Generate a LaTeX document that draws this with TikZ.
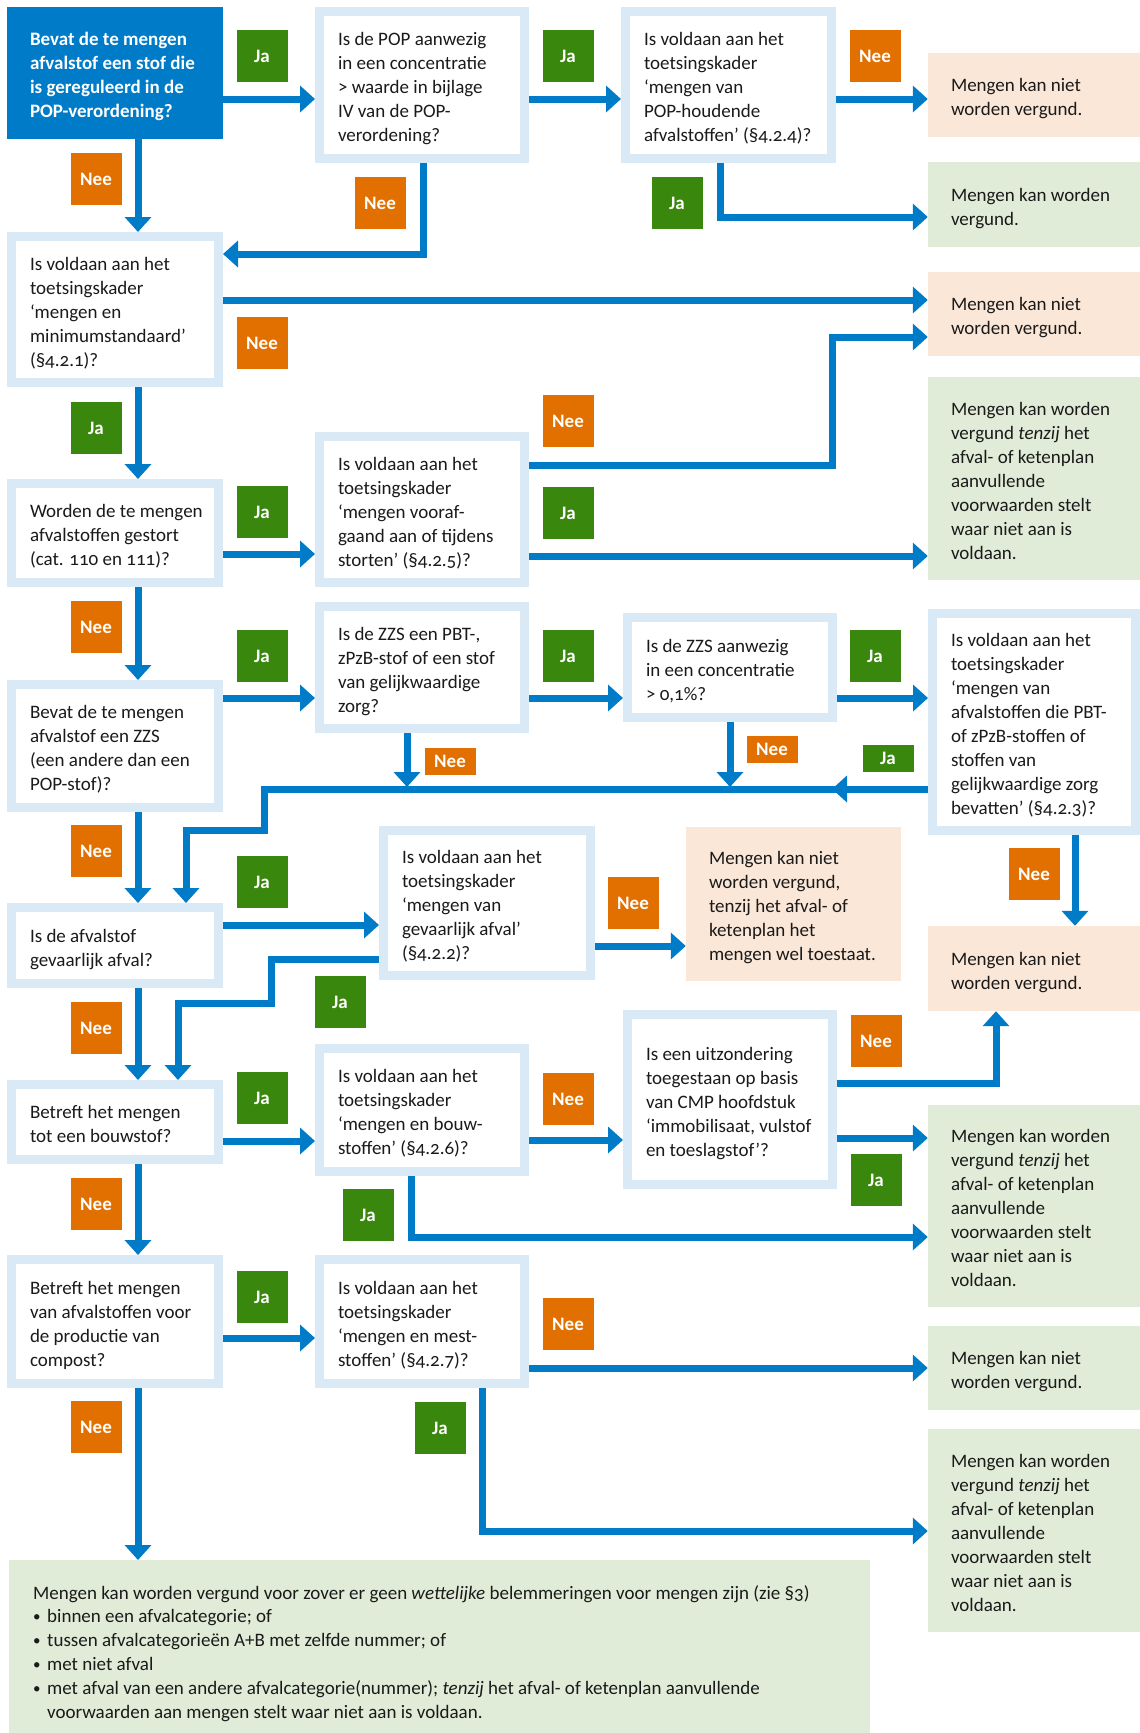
\documentclass[tikz,border=0pt]{standalone}
\usepackage{fontspec}
\setmainfont{Carlito}[Numbers=OldStyle]
\usetikzlibrary{arrows.meta}
\definecolor{dblue}{HTML}{007BC7}
\definecolor{lblue}{HTML}{D9EAF6}
\definecolor{jagreen}{HTML}{39870C}
\definecolor{neeorange}{HTML}{E17000}
\definecolor{peach}{HTML}{FBE7D7}
\definecolor{lgreen}{HTML}{E0ECD8}
\definecolor{txt}{HTML}{1A1A1A}
\newcommand\boxfont{\fontsize{19}{24}\selectfont}
\newcommand\tb[1]{\begin{tabular}{@{}l@{}}#1\end{tabular}}
\newcommand\bul{\makebox[14pt][l]{\raisebox{1pt}{\fontsize{15}{15}\selectfont\textbullet}}}
\newcommand\tenzijtxt{Mengen kan worden\\vergund \textit{tenzij} het\\afval- of ketenplan\\aanvullende\\voorwaarden stelt\\waar niet aan is\\voldaan.}
\newcommand\qnode[7]{%
  \pgfmathsetmacro\bcx{(#3+#5)/2}%
  \pgfmathsetmacro\bcy{(#4+#6)/2}%
  \pgfmathsetmacro\bw{#5-#3}%
  \pgfmathsetmacro\bh{#6-#4}%
  \pgfmathsetmacro\btw{#5-#3-46}%
  \node[#1] (#2) at (\bcx,\bcy) {\makebox[\btw pt][l]{\raisebox{-4pt}[\height][\depth]{\tb{#7}}}};%
}
\begin{document}
\begin{tikzpicture}[x=1pt,y=-1pt,
  qbox/.style={draw=lblue, line width=9pt, fill=white, text=txt, font=\boxfont,
    inner xsep=18.5pt, inner ysep=0pt, minimum width=\bw pt-9pt, minimum height=\bh pt-9pt},
  sbox/.style={fill=dblue, text=white, font=\boxfont\bfseries, inner xsep=23pt, inner ysep=0pt,
    minimum width=\bw pt, minimum height=\bh pt},
  pbox/.style={sbox, fill=peach, text=txt, font=\boxfont},
  gbox/.style={pbox, fill=lgreen},
  lab/.style={text=white, font=\boxfont\bfseries, inner sep=0pt, minimum width=51pt, minimum height=52pt},
  ja/.style={lab, fill=jagreen},
  nee/.style={lab, fill=neeorange},
  small/.style={minimum height=27pt},
  arr/.style={draw=dblue, line width=7pt, -{Triangle[length=15pt, width=26pt]}}
]
\useasboundingbox (0,0) rectangle (1140,1733);
\fill[white] (0,0) rectangle (1140,1733);

% boxes
\qnode{sbox}{S}{7}{7}{223}{139}{Bevat de te mengen\\afvalstof een stof die\\is gereguleerd in de\\POP-verordening?}
\qnode{qbox}{B2}{315}{7}{529}{163}{Is de POP aanwezig\\in een concentratie\\> waarde in bijlage\\IV van de POP-\\verordening?}
\qnode{qbox}{B4}{621}{7}{836}{163}{Is voldaan aan het\\toetsingskader\\‘mengen van\\POP-houdende\\afvalstoffen’ (§4.2.4)?}
\qnode{pbox}{R1}{928}{53}{1140}{137}{Mengen kan niet\\worden vergund.}
\qnode{gbox}{R2}{928}{162}{1140}{247}{Mengen kan worden\\vergund.}
\qnode{qbox}{B3}{7}{232}{223}{387}{Is voldaan aan het\\toetsingskader\\‘mengen en\\minimumstandaard’\\(§4.2.1)?}
\qnode{pbox}{R3}{928}{272}{1140}{356}{Mengen kan niet\\worden vergund.}
\qnode{gbox}{R4}{928}{377}{1140}{580}{\tenzijtxt}
\qnode{qbox}{B5}{7}{479}{223}{587}{Worden de te mengen\\afvalstoffen gestort\\(cat. 110 en 111)?}
\qnode{qbox}{B6}{315}{432}{529}{587}{Is voldaan aan het\\toetsingskader\\‘mengen vooraf-\\gaand aan of tijdens\\storten’ (§4.2.5)?}
\qnode{qbox}{B7}{7}{680}{223}{812}{Bevat de te mengen\\afvalstof een ZZS\\(een andere dan een\\POP-stof)?}
\qnode{qbox}{B8}{315}{602}{529}{733}{Is de ZZS een PBT-,\\zPzB-stof of een stof\\van gelijkwaardige\\zorg?}
\qnode{qbox}{B9}{623}{613}{837}{722}{Is de ZZS aanwezig\\in een concentratie\\> 0,1\%?}
\qnode{qbox}{B10}{928}{609}{1140}{835}{Is voldaan aan het\\toetsingskader\\‘mengen van\\afvalstoffen die PBT-\\of zPzB-stoffen of\\stoffen van\\gelijkwaardige zorg\\bevatten’ (§4.2.3)?}
\qnode{qbox}{B11}{7}{903}{223}{988}{Is de afvalstof\\gevaarlijk afval?}
\qnode{qbox}{B12}{379}{826}{595}{980}{Is voldaan aan het\\toetsingskader\\‘mengen van\\gevaarlijk afval’\\(§4.2.2)?}
\qnode{pbox}{R5}{686}{827}{901}{981}{Mengen kan niet\\worden vergund,\\tenzij het afval- of\\ketenplan het\\mengen wel toestaat.}
\qnode{pbox}{R6}{928}{926}{1140}{1011}{Mengen kan niet\\worden vergund.}
\qnode{qbox}{B13}{7}{1080}{223}{1164}{Betreft het mengen\\tot een bouwstof?}
\qnode{qbox}{B14}{315}{1044}{529}{1176}{Is voldaan aan het\\toetsingskader\\‘mengen en bouw-\\stoffen’ (§4.2.6)?}
\qnode{qbox}{B17}{623}{1010}{837}{1189}{Is een uitzondering\\toegestaan op basis\\van CMP hoofdstuk\\‘immobilisaat, vulstof\\en toeslagstof’?}
\qnode{gbox}{R7}{928}{1105}{1140}{1307}{\tenzijtxt}
\qnode{qbox}{B15}{7}{1255}{223}{1388}{Betreft het mengen\\van afvalstoffen voor\\de productie van\\compost?}
\qnode{qbox}{B16}{315}{1255}{529}{1388}{Is voldaan aan het\\toetsingskader\\‘mengen en mest-\\stoffen’ (§4.2.7)?}
\qnode{gbox}{R8}{928}{1326}{1140}{1410}{Mengen kan niet\\worden vergund.}
\qnode{gbox}{R9}{928}{1429}{1140}{1632}{\tenzijtxt}

\node[fill=lgreen, minimum width=861pt, minimum height=173pt, inner sep=0pt, anchor=north west] (BT) at (9,1560) {};
\node[anchor=base west, inner sep=0pt, text=txt, font=\fontsize{19}{23.8}\selectfont] (BTtext) at (33,1599)
 {\begin{tabular}[t]{@{}l@{}}
 Mengen kan worden vergund voor zover er geen \textit{wettelijke} belemmeringen voor mengen zijn (zie §3)\\
 \bul binnen een afvalcategorie; of\\
 \bul tussen afvalcategorieën A+B met zelfde nummer; of\\
 \bul met niet afval\\
 \bul met afval van een andere afvalcategorie(nummer); \textit{tenzij} het afval- of ketenplan aanvullende\\
 \makebox[14pt][l]{}voorwaarden aan mengen stelt waar niet aan is voldaan.
 \end{tabular}};

% helper coordinates
\coordinate (v138) at (138,0);
\coordinate (h99) at (0,99);
\coordinate (h300) at (0,300);
\coordinate (h554) at (0,554);
\coordinate (h556) at (0,556);
\coordinate (h698) at (0,698);
\coordinate (h925) at (0,925);
\coordinate (h946) at (0,946);
\coordinate (h1141) at (0,1141);
\coordinate (h1140) at (0,1140);
\coordinate (h1138) at (0,1138);
\coordinate (h1338) at (0,1338);
\coordinate (h1368) at (0,1368);
\coordinate (k4) at (720,217);
\coordinate (k6) at (423,254);
\coordinate (k10) at (832,465);
\coordinate (k10b) at (832,337);
\coordinate (m16) at (407,787);
\coordinate (m17) at (730,787);
\coordinate (mtip) at (832,789);
\coordinate (mstart) at (842,789);
\coordinate (m1) at (264,789);
\coordinate (m2) at (264,830);
\coordinate (m3) at (186,830);
\coordinate (k22a) at (271,959);
\coordinate (k22b) at (271,1003);
\coordinate (k22c) at (178,1003);
\coordinate (v1075) at (1075,0);
\coordinate (k27) at (996,1083);
\coordinate (k29) at (411,1237);
\coordinate (k33) at (482,1531);

% connectors
\draw[arr] (S.east |- h99) -- (B2.west |- h99);
\draw[arr] (B2.east |- h99) -- (B4.west |- h99);
\draw[arr] (B4.east |- h99) -- (R1.west |- h99);
\draw[arr] (B4.south -| k4) |- (R2.west |- k4);
\draw[arr] (S.south -| v138) -- (B3.north -| v138);
\draw[arr] (B2.south -| k6) |- (B3.east |- k6);
\draw[arr] (B3.east |- h300) -- (R3.west |- h300);
\draw[arr] (B3.south -| v138) -- (B5.north -| v138);
\draw[arr] (B5.east |- h554) -- (B6.west |- h554);
\draw[arr] (B6.east |- k10) -- (k10) -- (k10b) -- (R3.west |- k10b);
\draw[arr] (B6.east |- h556) -- (R4.west |- h556);
\draw[arr] (B5.south -| v138) -- (B7.north -| v138);
\draw[arr] (B7.east |- h698) -- (B8.west |- h698);
\draw[arr] (B8.east |- h698) -- (B9.west |- h698);
\draw[arr] (B9.east |- h698) -- (B10.west |- h698);
\draw[arr] (B8.south -| m16) -- (m16);
\draw[arr] (B9.south -| m17) -- (m17);
\draw[arr] (B10.west |- mtip) -- (mtip);
\draw[arr] (mstart) -- (m1) -- (m2) -- (m3) -- (B11.north -| m3);
\draw[arr] (B7.south -| v138) -- (B11.north -| v138);
\draw[arr] (B11.east |- h925) -- (B12.west |- h925);
\draw[arr] (B12.east |- h946) -- (R5.west |- h946);
\draw[arr] (B12.west |- k22a) -- (k22a) -- (k22b) -- (k22c) -- (B13.north -| k22c);
\draw[arr] (B11.south -| v138) -- (B13.north -| v138);
\draw[arr] (B10.south -| v1075) -- (R6.north -| v1075);
\draw[arr] (B13.east |- h1141) -- (B14.west |- h1141);
\draw[arr] (B14.east |- h1140) -- (B17.west |- h1140);
\draw[arr] (B17.east |- k27) -- (k27) -- (R6.south -| k27);
\draw[arr] (B17.east |- h1138) -- (R7.west |- h1138);
\draw[arr] (B14.south -| k29) |- (R7.west |- k29);
\draw[arr] (B13.south -| v138) -- (B15.north -| v138);
\draw[arr] (B15.east |- h1338) -- (B16.west |- h1338);
\draw[arr] (B16.east |- h1368) -- (R8.west |- h1368);
\draw[arr] (B16.south -| k33) |- (R9.west |- k33);
\draw[arr] (B15.south -| v138) -- (BT.north -| v138);

% labels
\node[ja]  (l1)  at (262,56) {Ja};
\node[ja]  (l2)  at (568,56) {Ja};
\node[nee] (l3)  at (875,56) {Nee};
\node[ja]  (l4)  at (677,203) {Ja};
\node[nee] (l5)  at (96,179) {Nee};
\node[nee] (l6)  at (380,203) {Nee};
\node[nee] (l7)  at (262,343) {Nee};
\node[ja]  (l8)  at (96,428) {Ja};
\node[ja]  (l9)  at (262,512) {Ja};
\node[nee] (l10) at (568,421) {Nee};
\node[ja]  (l11) at (568,513) {Ja};
\node[nee] (l12) at (96,627) {Nee};
\node[ja]  (l13) at (262,656) {Ja};
\node[ja]  (l14) at (568,656) {Ja};
\node[ja]  (l15) at (875,656) {Ja};
\node[nee, small] (l16) at (450,761) {Nee};
\node[nee, small] (l17) at (772,749) {Nee};
\node[ja, small]  (l18) at (888,758) {Ja};
\node[nee] (l19) at (96,851) {Nee};
\node[ja]  (l20) at (262,882) {Ja};
\node[nee] (l21) at (633,903) {Nee};
\node[ja]  (l22) at (340,1002) {Ja};
\node[nee] (l23) at (96,1028) {Nee};
\node[nee] (l24) at (1034,874) {Nee};
\node[ja]  (l25) at (262,1098) {Ja};
\node[nee] (l26) at (568,1099) {Nee};
\node[nee] (l27) at (876,1041) {Nee};
\node[ja]  (l28) at (876,1180) {Ja};
\node[ja]  (l29) at (368,1215) {Ja};
\node[nee] (l30) at (96,1204) {Nee};
\node[ja]  (l31) at (262,1297) {Ja};
\node[nee] (l32) at (568,1324) {Nee};
\node[ja]  (l33) at (440,1428) {Ja};
\node[nee] (l34) at (96,1427) {Nee};
\end{tikzpicture}
\end{document}
